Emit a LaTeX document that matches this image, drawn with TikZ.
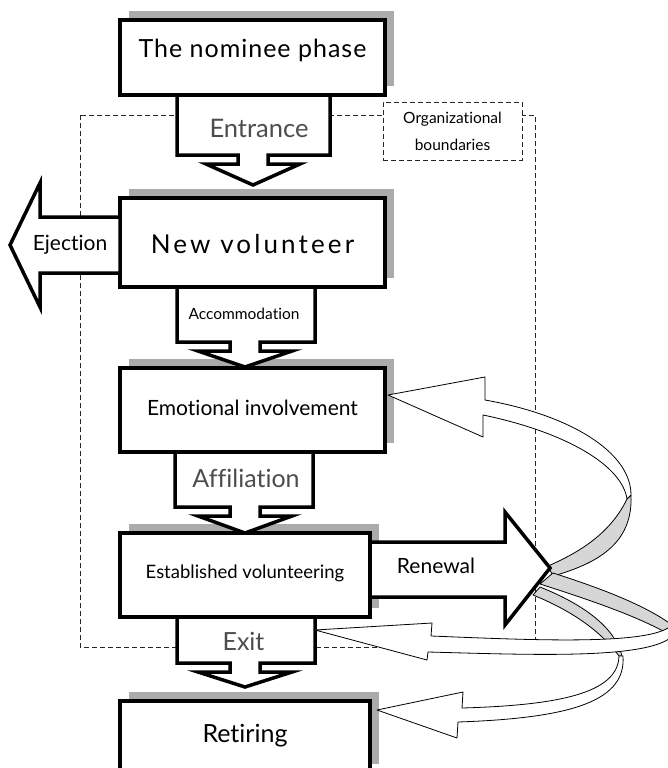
\documentclass[tikz,border=0pt]{standalone}
\usepackage{fontspec}
\setmainfont{Lato}[Ligatures=NoCommon]
\usetikzlibrary{positioning, shadows}
\definecolor{labelgray}{HTML}{4D4D4D}
\definecolor{shadowgray}{HTML}{ABABAB}
\definecolor{backgray}{HTML}{D6D6D6}
\tikzset{%
% Specifications for style of nodes:
phase/.style = {draw, line width=3.5pt, fill=white, minimum width=265pt, inner sep=0pt,
  text height=18pt, text depth=0pt,
  drop shadow={shadow xshift=9pt, shadow yshift=9pt, fill=shadowgray, opacity=1}},
flow/.style = {draw, line width=3.5pt, fill=white, line join=miter},
flowlabel/.style = {anchor=base, inner sep=0pt},
ribbon/.style = {draw, line width=0.8pt, fill=white, line join=round},
ribbonback/.style = {ribbon, fill=backgray},
boundary/.style = {draw=black!85, line width=1pt, dash pattern=on 5pt off 3pt},
huge/.style = {font=\fontsize{25}{30}\selectfont},
large/.style = {font=\fontsize{21}{25}\selectfont},
medium/.style = {font=\fontsize{18.5}{22}\selectfont},
small/.style = {font=\fontsize{15.5}{19}\selectfont},
}
\newcommand{\spaced}[1]{\addfontfeature{LetterSpace=#1}}
% down block arrow: shaft left, shaft right, top, shaft bottom, tip x, tip y
\newcommand{\flowdown}[6]{%
  \draw [flow] (#1,#3) -- (#1,#4) -- (#5-15,#4) -- (#5-15,#4+9) -- (#5-47,#4+9)
    -- (#5,#6) -- (#5+47,#4+9) -- (#5+15,#4+9) -- (#5+15,#4) -- (#2,#4) -- (#2,#3) -- cycle;}

\begin{document}
\begin{tikzpicture}[x=1pt, y=-1pt]
        \useasboundingbox (0,0) rectangle (667,768);
        % organizational boundaries
        \draw [boundary] (80,115) rectangle (535,647);

        % Specification of nodes (position, etc.)
        \node (nominee) [phase, huge, minimum height=75pt, text depth=17pt] at (252.5,57.5) {\spaced{4}The nominee phase};
        \node (newvol) [phase, font=\fontsize{26}{30}\selectfont, minimum height=89pt, text height=21pt, below=99.5pt of nominee] {\spaced{12}New volunteer};
        \node (emot) [phase, large, minimum height=84pt, text height=10pt, below=77.5pt of newvol] {Emotional involvement};
        \node (estab) [phase, medium, minimum width=250pt, minimum height=84pt, text height=6pt, below=77.5pt of emot.south west, anchor=north west] {Established volunteering};
        \node (retir) [phase, huge, minimum width=250pt, minimum height=72pt, text height=10pt, below=80.5pt of estab] {Retiring};

        % transitions
        \flowdown{177}{330}{95}{155}{253}{185}
        \flowdown{177}{315}{287}{342}{245}{367}
        \flowdown{175}{313}{452}{507}{245}{533}
        \flowdown{177}{315}{617}{663}{245}{687}

        % renewal ribbons
        \draw [ribbonback] (540,587) .. controls (585,605) and (615,628) .. (622,656)
            -- (619,656) .. controls (600,630) and (570,610) .. (533,595) -- cycle;
        \draw [ribbon] (619,656) .. controls (618,690) and (570,705) .. (462,708) -- (463,692) -- (377,710)
            -- (457,738) -- (458,722) .. controls (575,718) and (626,700) .. (623,656) -- cycle;
        \draw [ribbonback] (631,495) .. controls (633,540) and (603,562) .. (553,576)
            -- (548,566) .. controls (585,550) and (612,530) .. (627,499) -- cycle;
        \draw [ribbon] (388,395) -- (485,377) -- (485,400) .. controls (570,415) and (631,452) .. (631,495)
            -- (627,499) .. controls (622,465) and (565,432) .. (483,415) -- (483,437) -- cycle;
        \draw [ribbonback] (553,573) .. controls (600,588) and (645,605) .. (672,625)
            -- (672,636) .. controls (640,617) and (590,600) .. (540,584) -- cycle;
        \draw [ribbon] (315,630) -- (432,623) -- (431,636) .. controls (530,640) and (640,645) .. (668,628)
            -- (676,632) .. controls (660,660) and (540,655) .. (428,652) -- (427,660) -- cycle;

        % renewal and ejection
        \draw [flow] (370,542) -- (505,542) -- (505,512) -- (550,568) -- (505,625) -- (505,597) -- (370,597) -- cycle;
        \draw [flow] (120,217) -- (40,217) -- (40,183) -- (10,245) -- (40,307) -- (40,273) -- (120,273) -- cycle;

        % labels
        \node (entrance) [flowlabel, font=\fontsize{25.5}{30}\selectfont, text=labelgray] at (259,137) {Entrance};
        \node (accommodation) [flowlabel, small] at (244,319) {Accommodation};
        \node (affiliation) [flowlabel, huge, text=labelgray] at (246,487) {Affiliation};
        \node (exit) [flowlabel, huge, text=labelgray] at (243.5,650) {Exit};
        \node (ejection) [flowlabel, large] at (70,250) {Ejection};
        \node (renewal) [flowlabel, large] at (436,573) {Renewal};
        \node (orglabel) [boundary, fill=white, minimum width=139pt, minimum height=58pt, inner sep=0pt,
            align=center, font=\fontsize{15.5}{27}\selectfont] at (452.5,131) {Organizational\\boundaries};
\end{tikzpicture}
\end{document}
